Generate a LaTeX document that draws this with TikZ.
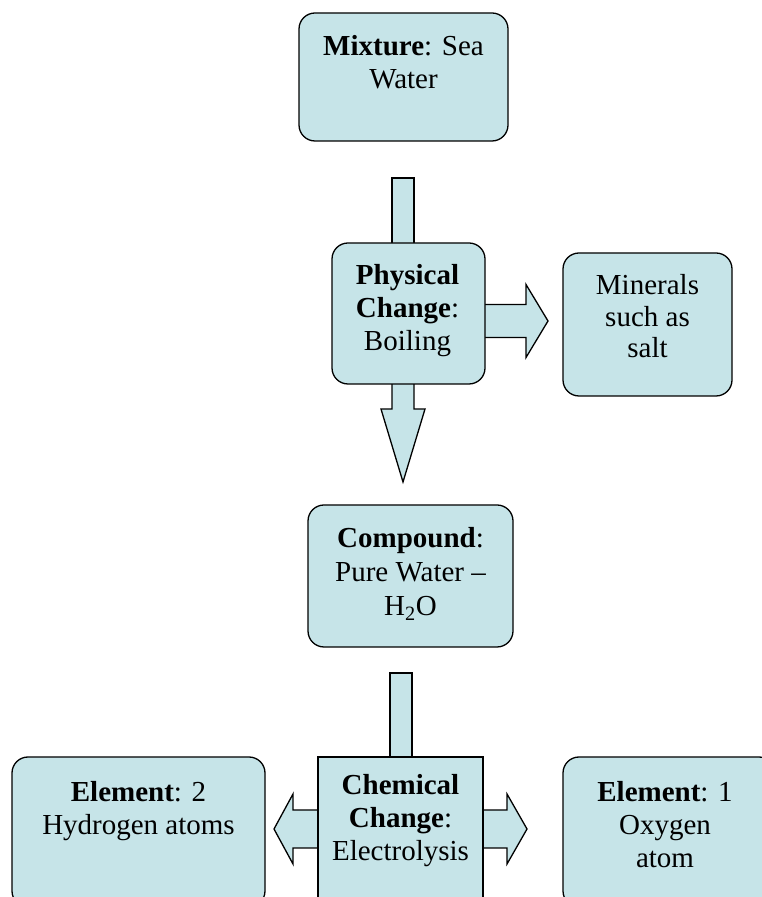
\documentclass[tikz,border=0pt]{standalone}
\usepackage{fontspec}
\setmainfont{Liberation Serif}
\usetikzlibrary{calc}
\pgfdeclarelayer{back}
\pgfsetlayers{back,main}
\definecolor{paleblue}{RGB}{198,228,232}
\tikzset{box/.style={draw, fill=paleblue, line width=1.3pt, inner sep=0pt, rounded corners=16pt}}
\tikzset{sqbox/.style={box, rounded corners=0pt}}
\tikzset{txt/.style={anchor=north, align=center, inner sep=0pt, font=\fontsize{29}{33}\selectfont}}
\tikzset{fat/.style={draw, fill=paleblue, line width=1.3pt, line join=miter}}

\begin{document}
\begin{tikzpicture}[x=1pt, y=1pt]
\useasboundingbox (0,0) rectangle (762,897);
\clip (0,0) rectangle (762,897);

% Boxes
\node[box, minimum width=209, minimum height=128] (mix) at (403.5,820) {};
\node[box, minimum width=153, minimum height=141] (phys) at (408.5,583.5) {};
\node[box, minimum width=169, minimum height=143] (min) at (647.5,572.5) {};
\node[box, minimum width=205, minimum height=142] (comp) at (410.5,321) {};
\node[sqbox, minimum width=165, minimum height=160] (chem) at (400.5,60) {};
\node[box, minimum width=253, minimum height=150] (hyd) at (138.5,65) {};
\node[box, minimum width=212, minimum height=150] (oxy) at (669,65) {};

% Texts
\node[txt] (mixtxt) at ($(mix.north)+(0,-23)$) {\textbf{Mixture}: Sea\\Water};
\node[txt] (phystxt) at ($(phys.north)+(-1,-22)$) {\textbf{Physical}\\\textbf{Change}:\\Boiling};
\node[txt, font=\fontsize{29}{31.5}\selectfont] (mintxt) at ($(min.north)+(0,-22)$) {Minerals\\such as\\salt};
\node[txt, font=\fontsize{29}{34}\selectfont] (comptxt) at ($(comp.north)+(0,-23)$) {\textbf{Compound}:\\Pure Water --\\H\textsubscript{2}O};
\node[txt] (chemtxt) at ($(chem.north)+(0,-18)$) {\textbf{Chemical}\\\textbf{Change}:\\Electrolysis};
\node[txt] (hydtxt) at ($(hyd.north)+(0,-25)$) {\textbf{Element}: 2\\Hydrogen atoms};
\node[txt] (oxytxt) at ($(oxy.north)+(-4,-25)$) {\textbf{Element}: 1\\Oxygen\\atom};

% Free ends of the arrows
\coordinate (top1) at (403,719);
\coordinate (tip1) at (403,415);
\coordinate (tip2) at (548,576);
\coordinate (top2) at (401,224);
\coordinate (tipl) at (274,68);
\coordinate (tipr) at (527,68);

% Block arrows behind the boxes
\begin{pgfonlayer}{back}
	\draw[fat] ($(top1)+(-11,0)$) -- ($(top1 |- phys.center)+(-11,0)$)
	        -- ($(top1 |- phys.center)+(11,0)$) -- ($(top1)+(11,0)$) -- cycle;
	\draw[fat] ($(tip1 |- phys.center)+(-11,0)$) -- ($(tip1)+(-11,73)$) -- ($(tip1)+(-22,73)$)
	        -- (tip1) -- ($(tip1)+(22,73)$) -- ($(tip1)+(11,73)$)
	        -- ($(tip1 |- phys.center)+(11,0)$) -- cycle;
	\draw[fat] ($(phys.center |- tip2)+(0,16.5)$) -- ($(tip2)+(-22,16.5)$) -- ($(tip2)+(-22,36.5)$)
	        -- (tip2) -- ($(tip2)+(-22,-36.5)$) -- ($(tip2)+(-22,-16.5)$)
	        -- ($(phys.center |- tip2)+(0,-16.5)$) -- cycle;
	\draw[fat] ($(top2)+(-11,0)$) -- ($(top2 |- chem.center)+(-11,0)$)
	        -- ($(top2 |- chem.center)+(11,0)$) -- ($(top2)+(11,0)$) -- cycle;
	\draw[fat] (tipl) -- ($(tipl)+(19,35)$) -- ($(tipl)+(19,19)$) -- ($(tipr)+(-20,19)$)
	        -- ($(tipr)+(-20,35)$) -- (tipr) -- ($(tipr)+(-20,-35)$) -- ($(tipr)+(-20,-19)$)
	        -- ($(tipl)+(19,-19)$) -- ($(tipl)+(19,-35)$) -- cycle;
\end{pgfonlayer}

\end{tikzpicture}
\end{document}
